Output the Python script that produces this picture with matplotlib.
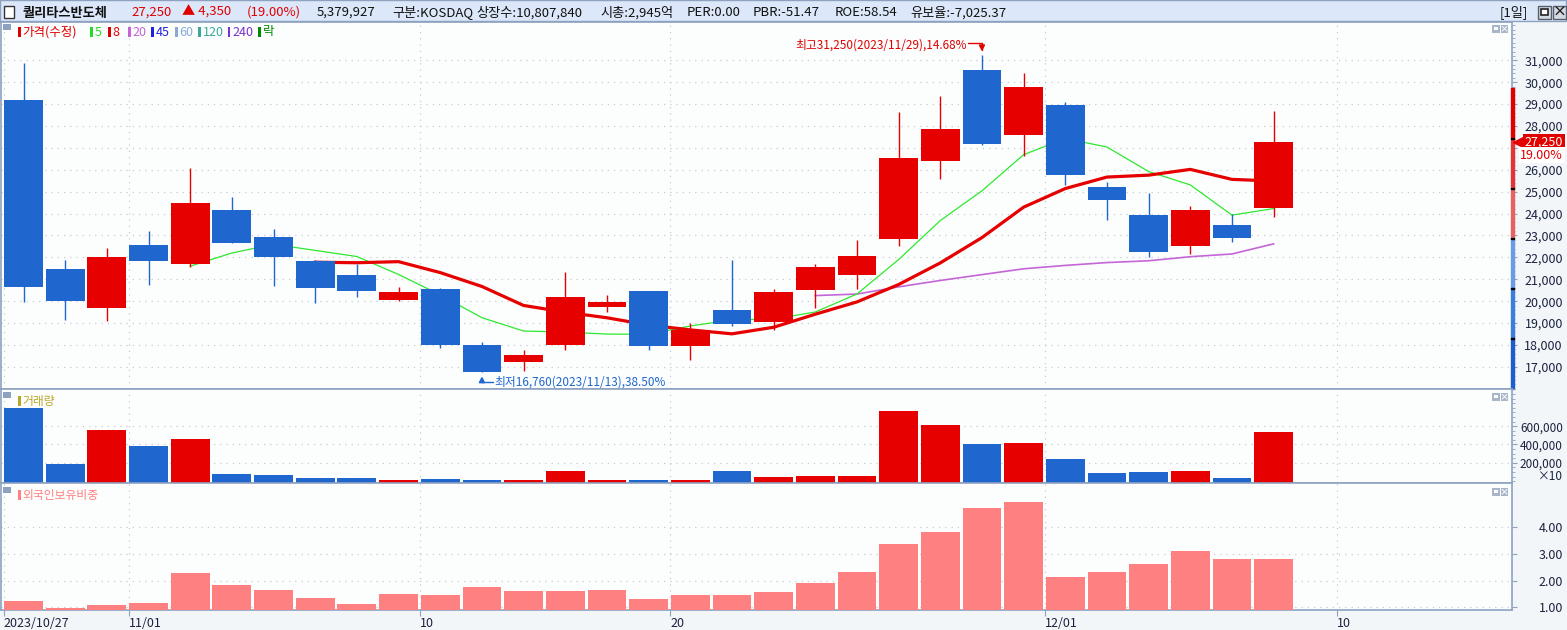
import matplotlib
matplotlib.use("Agg")
import numpy as np
import matplotlib.pyplot as plt
from matplotlib.patches import Rectangle
from matplotlib.ticker import MultipleLocator
from matplotlib.transforms import blended_transform_factory, offset_copy

plt.rcParams['font.family'] = ['Noto Sans CJK KR', 'DejaVu Sans']

W, H = 1567, 630

# ---- data ----
dates = ['2023/10/27', '2023/10/30', '2023/10/31', '2023/11/01', '2023/11/02', '2023/11/03',
         '2023/11/06', '2023/11/07', '2023/11/08', '2023/11/09', '2023/11/10', '2023/11/13',
         '2023/11/14', '2023/11/15', '2023/11/16', '2023/11/17', '2023/11/20', '2023/11/21',
         '2023/11/22', '2023/11/23', '2023/11/24', '2023/11/27', '2023/11/28', '2023/11/29',
         '2023/11/30', '2023/12/01', '2023/12/04', '2023/12/05', '2023/12/06', '2023/12/07',
         '2023/12/08']
opens = [29200, 21450, 19700, 22550, 21700, 24150, 22950, 21850, 21200, 20050, 20550, 18000,
         17210, 17990, 19720, 20450, 17950, 19600, 19050, 20500, 21200, 22850, 26400, 30550,
         27600, 28950, 25200, 23950, 22500, 23500, 24250]
highs = [30900, 21900, 22450, 23200, 26100, 24750, 23300, 21900, 21700, 20650, 20600, 18150,
         17790, 21350, 20300, 20450, 19000, 21900, 20550, 21700, 22800, 28650, 29350, 31250,
         30400, 29100, 25450, 24950, 24350, 24000, 28700]
lows = [19950, 19150, 19100, 20750, 21550, 22650, 20700, 19900, 20200, 20000, 17850, 16760,
        16800, 17790, 19490, 17750, 17300, 18880, 18680, 19700, 20550, 22500, 25600, 27150,
        26650, 25300, 23700, 22000, 22150, 22700, 23850]
closes = [20650, 20000, 22000, 21850, 24500, 22650, 22000, 20600, 20450, 20400, 18000, 16760,
          17560, 20200, 19950, 17950, 18680, 18950, 20400, 21550, 22050, 26550, 27850, 27200,
          29800, 25750, 24600, 22250, 24150, 22900, 27250]
nan = np.nan
ma5 = [nan] * 4 + [21600, 22200, 22600, 22320, 22040, 21220, 20290, 19246, 18638, 18588, 18498,
                   18488, 18868, 19146, 19186, 19506, 20326, 21900, 23680, 25040, 26690, 27430,
                   27040, 25920, 25310, 23930, 24230]
ma8 = [nan] * 7 + [21781, 21756, 21806, 21306, 20673, 19805, 19499, 19243, 18911, 18690, 18509,
                   18809, 19405, 19966, 20760, 21748, 22904, 24294, 25144, 25669, 25756, 26019,
                   25563, 25488]
ma20 = [nan] * 19 + [20256, 20326, 20654, 20946, 21214, 21479, 21634, 21764, 21846, 22031,
                     22156, 22619]
volumes = [7990000, 1900000, 5600000, 3860000, 4620000, 820000, 710000, 380000, 380000, 80000,
           270000, 80000, 80000, 1140000, 80000, 160000, 80000, 1140000, 490000, 600000, 600000,
           7660000, 6140000, 4080000, 4180000, 2450000, 920000, 1030000, 1140000, 380000, 5379927]
foreign = [1.24, 0.97, 1.09, 1.16, 2.29, 1.84, 1.65, 1.35, 1.12, 1.50, 1.46, 1.76, 1.61, 1.61,
           1.65, 1.31, 1.46, 1.46, 1.57, 1.91, 2.32, 3.37, 3.82, 4.72, 4.95, 2.14, 2.32, 2.62,
           3.11, 2.81, 2.81]
tick_idx = [0, 3, 10, 16, 25, 32]
tick_labels = ['2023/10/27', '11/01', '10', '20', '12/01', '10']
price_ticks = list(range(17000, 31001, 1000))
vol_ticks = [2000000, 4000000, 6000000]
vol_tick_labels = ['200,000', '400,000', '600,000']
foreign_ticks = [1, 2, 3, 4]
range_bar_edges = [29740, 27450, 25160, 22870, 20590, 18310, 15990]
range_bar_colors = ['#e00000', '#e23636', '#e86262', '#6a9ce4', '#3e7ddb', '#1c5ecf']

header_items = [
    ('퀄리타스반도체', 23, '#111111', 'bold'),
    ('27,250', 131, '#e00000', 'normal'),
    ('▲ 4,350', 182, '#e00000', 'normal'),
    ('(19.00%)', 247, '#e00000', 'normal'),
    ('5,379,927', 317, '#111111', 'normal'),
    ('구분:KOSDAQ', 392, '#111111', 'normal'),
    ('상장수:10,807,840', 476, '#111111', 'normal'),
    ('시총:2,945억', 600, '#111111', 'normal'),
    ('PER:0.00', 687, '#111111', 'normal'),
    ('PBR:-51.47', 753, '#111111', 'normal'),
    ('ROE:58.54', 835, '#111111', 'normal'),
    ('유보율:-7,025.37', 910, '#111111', 'normal'),
]
legend_items = [('가격(수정)', 18, '#e00000'), ('5', 90, '#22dd22'), ('8', 108, '#e00000'),
                ('20', 128, '#c466d6'), ('45', 151, '#2020e0'), ('60', 175, '#8aa8d8'),
                ('120', 198, '#3aa89a'), ('240', 228, '#7a2fd0'), ('락', 258, '#008a00')]

RED = '#e60000'
BLUE = '#1f66cf'
FRAME = '#8ea2c0'
TXT = '#1a2240'
GRID = '#c5cad3'

fig = plt.figure(figsize=(W / 100, H / 100), dpi=100, facecolor='#f3f6f8')


def box(x0, y0, x1, y1):
    return [x0 / W, 1 - y1 / H, (x1 - x0) / W, (y1 - y0) / H]


def frect(x, y, w, h, **kw):
    fig.add_artist(Rectangle((x / W, 1 - (y + h) / H), w / W, h / H,
                             transform=fig.transFigure, **kw))


def ftext(x, y, s, **kw):
    fig.text(x / W, 1 - y / H, s, **kw)


x = np.arange(len(closes))
up = [c >= o for o, c in zip(opens, closes)]
colors = [RED if u else BLUE for u in up]
last = closes[-1]

ax1 = fig.add_axes(box(1, 22, 1512, 389))
ax2 = fig.add_axes(box(1, 389, 1512, 483), sharex=ax1)
ax3 = fig.add_axes(box(1, 483, 1512, 610), sharex=ax1)

for ax in (ax1, ax2, ax3):
    ax.set_facecolor('#fcfefe')
    for sp in ax.spines.values():
        sp.set_color(FRAME)
        sp.set_linewidth(1.2)
    ax.yaxis.tick_right()
    ax.grid(True, linestyle=(0, (1, 4)), color=GRID, linewidth=0.9)
    ax.set_axisbelow(True)

ax1.set_xlim(-0.54, 35.72)
ax3.set_xticks([i - 0.48 for i in tick_idx])
ax3.set_xticklabels(tick_labels, ha='left', color=TXT, fontsize=9)
ax3.tick_params(axis='x', direction='out', length=4, width=0.8, color=FRAME, pad=1)
for ax in (ax1, ax2):
    ax.tick_params(axis='x', length=0, labelbottom=False)

# ---- price panel ----
body_lo = [min(o, c) for o, c in zip(opens, closes)]
body_h = [abs(c - o) for o, c in zip(opens, closes)]
ax1.plot(x, ma20, color='#c466d6', lw=1.2, zorder=2)
ax1.plot(x, ma5, color='#2ee82e', lw=0.9, zorder=2)
ax1.plot(x, ma8, color='#e60000', lw=2.3, zorder=2)
ax1.vlines(x, lows, highs, colors=colors, lw=1.0, zorder=3)
ax1.bar(x, body_h, bottom=body_lo, width=0.93, color=colors, zorder=4)
ax1.set_ylim(15990, 32750)
ax1.set_yticks(price_ticks)
# the label under the current-price box is hidden, as on the reference
ax1.set_yticklabels(['' if abs(v - last) < 500 else f'{v:,}' for v in price_ticks])
ax1.yaxis.set_minor_locator(MultipleLocator(200))

# ---- volume panel ----
v_lo = -200000
ax2.bar(x, [v - v_lo for v in volumes], bottom=v_lo, width=0.93, color=colors, zorder=3)
ax2.set_ylim(v_lo, 10050000)
ax2.set_yticks(vol_ticks)
ax2.set_yticklabels(vol_tick_labels)
ax2.yaxis.set_minor_locator(MultipleLocator(500000))

# ---- foreign ownership panel ----
f_lo = 0.9
ax3.bar(x, [f - f_lo for f in foreign], bottom=f_lo, width=0.93, color='#ff8080', zorder=3)
ax3.set_ylim(f_lo, 5.66)
ax3.set_yticks(foreign_ticks)
ax3.set_yticklabels([f'{v:.2f}' for v in foreign_ticks])

for ax in (ax1, ax2, ax3):
    ax.tick_params(axis='y', which='major', direction='out', length=3.6, width=0.8,
                   color=FRAME, pad=33, labelsize=9, labelcolor=TXT)
    ax.tick_params(axis='y', which='minor', direction='out', length=2.2, width=0.6,
                   color=FRAME)
    for lbl in ax.get_yticklabels():
        lbl.set_horizontalalignment('right')
for lbl in ax2.get_yticklabels():
    lbl.set_fontsize(8.5)

bt2 = blended_transform_factory(fig.transFigure, ax2.transData)
ax2.text(1563 / W, 0, '×10', transform=offset_copy(bt2, fig=fig, y=5, units='dots'),
         ha='right', va='center', fontsize=8.5, color=TXT, clip_on=False)

# range bar on the price axis
bt = blended_transform_factory(fig.transFigure, ax1.transData)
for top, bot, col in zip(range_bar_edges[:-1], range_bar_edges[1:], range_bar_colors):
    ax1.add_patch(Rectangle((1510.5 / W, bot), 3.2 / W, top - bot, transform=bt,
                            color=col, clip_on=False, zorder=6))
for edge in range_bar_edges[1:-1]:
    ax1.add_patch(Rectangle((1510.5 / W, edge - 25), 3.2 / W, 50, transform=bt,
                            color='black', clip_on=False, zorder=7))

ax1.plot([1517.5 / W], [last], marker='<', color=RED, markersize=7, transform=bt,
         clip_on=False, zorder=8)
ax1.text(1563 / W, last, f'{last:,}', transform=bt, ha='right', va='center', fontsize=9,
         color='white', zorder=9, clip_on=False,
         bbox=dict(boxstyle='square,pad=0.12', fc='#e00000', ec='none'))
chg = (last - closes[-2]) / closes[-2] * 100
ax1.text(1563 / W, last, f'{chg:.2f}%', transform=offset_copy(bt, fig=fig, y=-13, units='dots'),
         ha='right', va='center', fontsize=9, color='#e00000', zorder=9, clip_on=False,
         bbox=dict(boxstyle='square,pad=0.12', fc='white', ec='none'))

# high / low notes
i_hi = int(np.argmax(highs))
i_lo = int(np.argmin(lows))
hi_pct = (highs[i_hi] - last) / last * 100
lo_pct = (last - lows[i_lo]) / last * 100
ax1.annotate(f'최고{highs[i_hi]:,}({dates[i_hi]}),{hi_pct:.2f}%', xy=(i_hi, highs[i_hi]),
             xytext=(-15, 10), textcoords='offset pixels', ha='right', va='center',
             fontsize=8.5, color='#e00000', zorder=9)
ax1.annotate('', xy=(i_hi, highs[i_hi]), xytext=(-14, 12), textcoords='offset pixels',
             arrowprops=dict(arrowstyle='-|>,head_length=0.35,head_width=0.18',
                             connectionstyle='angle,angleA=0,angleB=90,rad=0',
                             color='#e00000', lw=1, shrinkA=0, shrinkB=2.5), zorder=9)
ax1.annotate(f'최저{lows[i_lo]:,}({dates[i_lo]}),{lo_pct:.2f}%', xy=(i_lo, lows[i_lo]),
             xytext=(12, -10), textcoords='offset pixels', ha='left', va='center',
             fontsize=8.5, color=BLUE, zorder=9)
ax1.annotate('', xy=(i_lo, lows[i_lo]), xytext=(11, -10), textcoords='offset pixels',
             arrowprops=dict(arrowstyle='-|>,head_length=0.35,head_width=0.18',
                             connectionstyle='angle,angleA=0,angleB=90,rad=0',
                             color=BLUE, lw=1, shrinkA=0, shrinkB=3), zorder=9)

# ---- panel legends and icons ----
for y_top in (24, 392, 487):
    frect(3, y_top, 8, 6, fc=FRAME, ec='none')
    frect(1492, y_top + 1, 7.5, 7.5, fc='#a9b6ca', ec='none')
    frect(1494, y_top + 3, 3.5, 3, fc='white', ec='none')
    frect(1500.5, y_top + 1, 7.5, 7.5, fc='#a9b6ca', ec='none')
    ftext(1504.3, y_top + 5, '×', fontsize=6.5, color='white', ha='center', va='center',
          weight='bold')

for label, lx, col in legend_items:
    frect(lx, 27, 2.5, 10, fc=col, ec='none')
    ftext(lx + 4.5, 32, label, fontsize=9, color=col, va='center', ha='left')
frect(18, 396, 2.5, 10, fc='#b8a628', ec='none')
ftext(22.5, 401, '거래량', fontsize=8.5, color='#b8a628', va='center', ha='left')
frect(18, 490, 2.5, 10, fc='#ff8080', ec='none')
ftext(22.5, 495, '외국인보유비중', fontsize=8.5, color='#ff8080', va='center', ha='left')

# ---- header bar ----
frect(0, 0, W - 1, 21, fc='#dce8f9', ec=FRAME, lw=1)
frect(4, 6, 10, 12, fc='white', ec='#333333', lw=1)
for s, hx, col, wt in header_items:
    ftext(hx, 12.5, s, fontsize=9.5, color=col, weight=wt, va='center', ha='left')
ftext(1500, 12.5, '[1일]', fontsize=9.5, color='#111111', va='center', ha='left')
frect(1538, 6, 13, 13, fc='#d5dae2', ec='#55606e', lw=1)
frect(1541, 9, 7, 6, fc='white', ec='#222222', lw=1.2)
frect(1553, 6, 13, 13, fc='#d5dae2', ec='#55606e', lw=1)
ftext(1559.5, 12.5, '×', fontsize=10, color='#222222', ha='center', va='center', weight='bold')

fig.savefig('out.png', dpi=100, facecolor=fig.get_facecolor())
